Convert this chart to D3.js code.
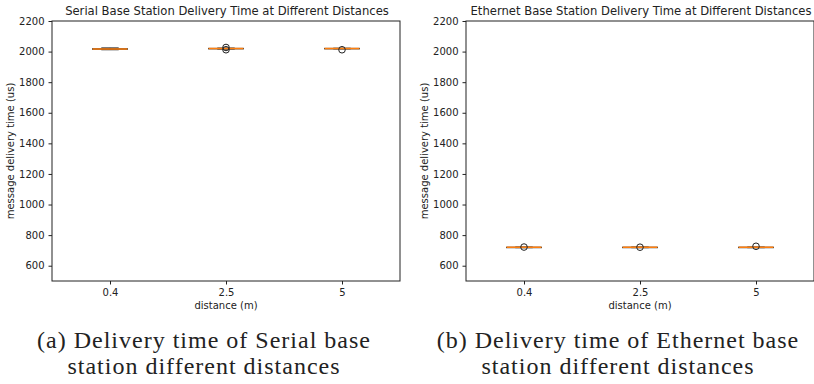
<!DOCTYPE html>
<html>
<head>
<meta charset="utf-8">
<script src="https://cdn.jsdelivr.net/npm/d3@7"></script>
<style>
  body { margin: 0; background: #fff; }
  svg { display: block; }
  .tick text { font-family: "DejaVu Sans", sans-serif; font-size: 10px; fill: #222; }
</style>
</head>
<body>
<svg width="814" height="384"></svg>
<script>
// distances (x categories)
const distances = ["0.4", "2.5", "5"];
const yTicks = [600, 800, 1000, 1200, 1400, 1600, 1800, 2000, 2200];

// box summary per distance: [whiskerLow, q1, median, q3, whiskerHigh]
const serialStats = [
  [2012, 2015, 2017, 2019, 2024],
  [2017, 2018, 2020, 2021, 2023],
  [2018, 2019, 2020, 2021, 2022]
];
const serialOutliers = [[], [2012, 2027], [2012]];

const ethernetStats = [
  [718, 719, 720, 721, 722],
  [718, 719, 720, 721, 722],
  [718, 719, 720, 721, 722]
];
const ethernetOutliers = [[722], [721], [727]];

const titles = [
  "Serial Base Station Delivery Time at Different Distances",
  "Ethernet Base Station Delivery Time at Different Distances"
];
const captions = [
  ["(a) Delivery time of Serial base", "station different distances"],
  ["(b) Delivery time of Ethernet base", "station different distances"]
];

const svg = d3.select("svg");

function drawPanel(left, stats, outliers, title, caption) {
  const w = 348, h = 260, top = 21;
  const g = svg.append("g").attr("transform", `translate(${left},${top})`);

  const x = d3.scaleLinear().domain([0.5, 3.5]).range([0, w]);
  const y = d3.scaleLinear().domain([500, 2200]).range([h, 0]);
  const bw = x(1.3) - x(1);

  // axes
  g.append("g")
    .attr("transform", `translate(0,${h})`)
    .call(d3.axisBottom(x).tickValues([1, 2, 3]).tickFormat((d, i) => distances[i]).tickSize(3.5).tickPadding(4))
    .call(a => a.select(".domain").remove());
  g.append("g")
    .call(d3.axisLeft(y).tickValues(yTicks).tickFormat(d3.format("d")).tickSize(3.5).tickPadding(4))
    .call(a => a.select(".domain").remove());
  g.selectAll(".tick line").attr("stroke", "#222");

  g.append("rect").attr("width", w).attr("height", h)
    .attr("fill", "none").attr("stroke", "#222").attr("stroke-width", 1);

  // boxes
  const boxes = g.selectAll(".box").data(stats).join("g").attr("class", "box");
  boxes.each(function(d, i) {
    const b = d3.select(this);
    const cx = x(i + 1);
    // whiskers
    b.append("line").attr("x1", cx).attr("x2", cx).attr("y1", y(d[0])).attr("y2", y(d[1])).attr("stroke", "#222");
    b.append("line").attr("x1", cx).attr("x2", cx).attr("y1", y(d[3])).attr("y2", y(d[4])).attr("stroke", "#222");
    // caps
    [d[0], d[4]].forEach(v => {
      b.append("line").attr("x1", cx - bw / 4).attr("x2", cx + bw / 4)
        .attr("y1", y(v)).attr("y2", y(v)).attr("stroke", "#222");
    });
    b.append("rect").attr("x", cx - bw / 2).attr("width", bw)
      .attr("y", y(d[3])).attr("height", Math.max(0.5, y(d[1]) - y(d[3])))
      .attr("fill", "none").attr("stroke", "#222");
    b.append("line").attr("x1", cx - bw / 2).attr("x2", cx + bw / 2)
      .attr("y1", y(d[2])).attr("y2", y(d[2])).attr("stroke", "#ff7f0e").attr("stroke-width", 1.5);
    b.selectAll("circle").data(outliers[i]).join("circle")
      .attr("cx", cx).attr("cy", v => y(v)).attr("r", 3.3)
      .attr("fill", "none").attr("stroke", "#222").attr("stroke-width", 1);
  });

  // labels
  g.append("text").attr("x", w / 2 + 1).attr("y", -6).attr("text-anchor", "middle")
    .attr("font-family", "DejaVu Sans").attr("font-size", 11.6).attr("fill", "#222").text(title);
  g.append("text").attr("x", w / 2).attr("y", h + 28).attr("text-anchor", "middle")
    .attr("font-family", "DejaVu Sans").attr("font-size", 10).attr("fill", "#222").text("distance (m)");
  g.append("text").attr("transform", `translate(${-38},${h / 2}) rotate(-90)`).attr("text-anchor", "middle")
    .attr("font-family", "DejaVu Sans").attr("font-size", 10).attr("fill", "#222").text("message delivery time (us)");

  // caption
  caption.forEach((c, k) => {
    svg.append("text").attr("x", left + w / 2 - 22).attr("y", 348 + k * 26).attr("text-anchor", "middle")
      .attr("font-family", "Liberation Serif, serif").attr("font-size", 24)
      .attr("letter-spacing", 1).attr("fill", "#222").text(c);
  });
}

drawPanel(52, serialStats, serialOutliers, titles[0], captions[0]);
drawPanel(466, ethernetStats, ethernetOutliers, titles[1], captions[1]);
</script>
</body>
</html>
